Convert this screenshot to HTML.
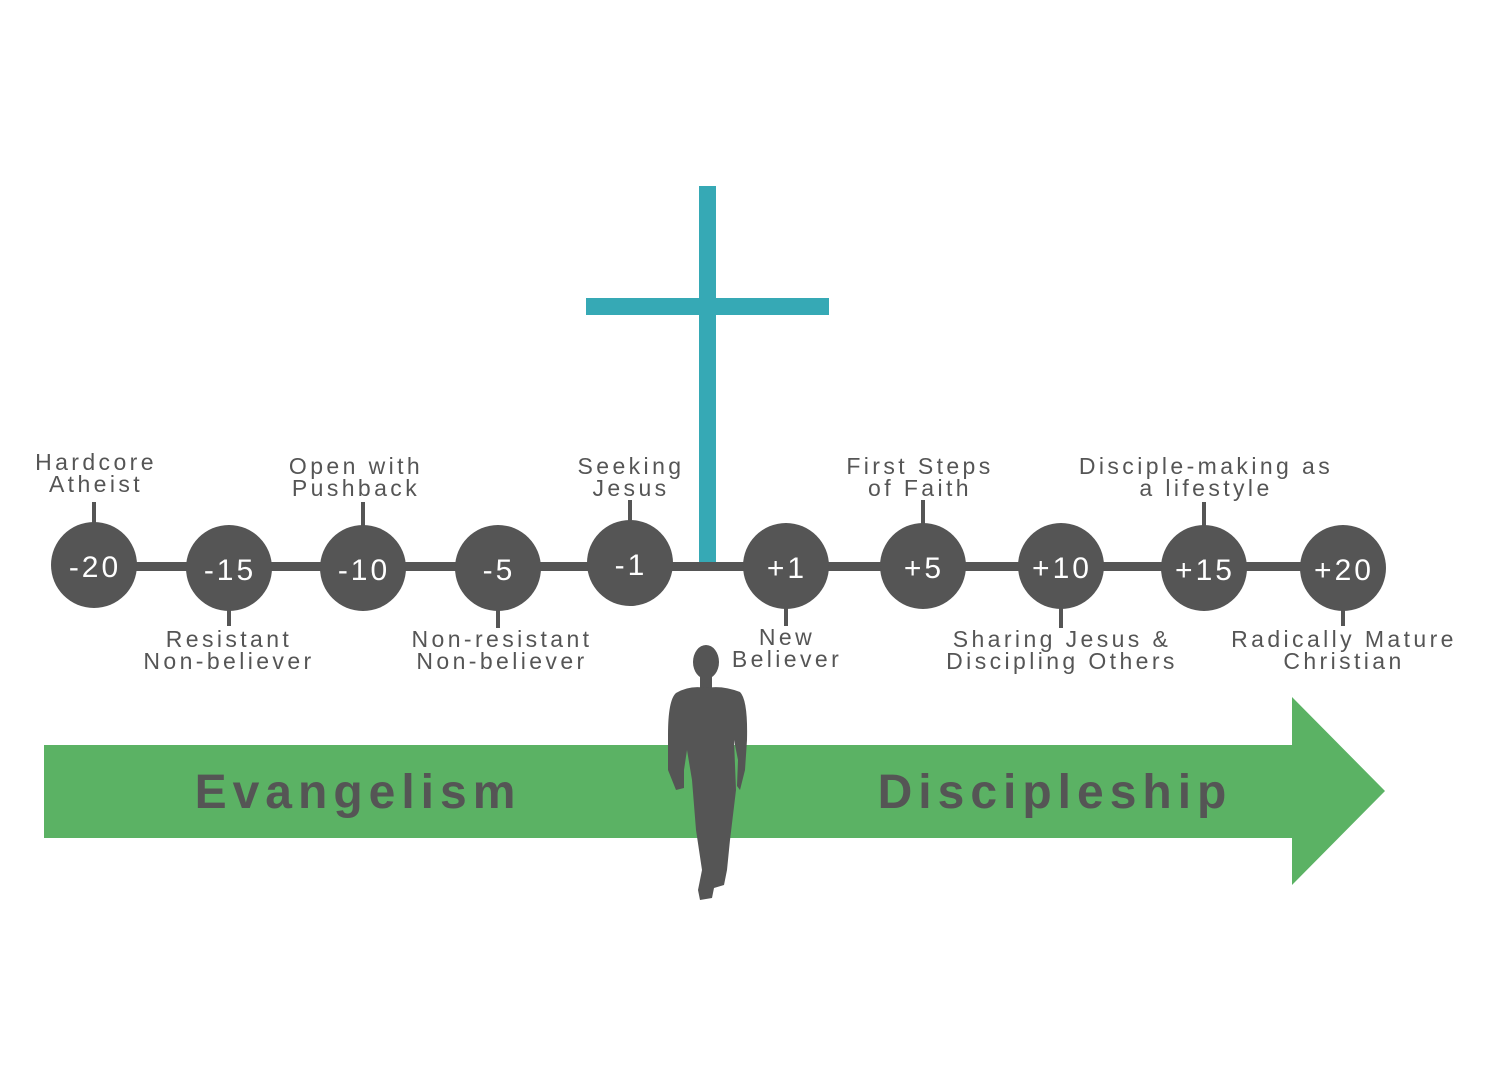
<!DOCTYPE html>
<html><head><meta charset="utf-8"><style>
html,body{margin:0;padding:0;background:#fff;}
svg{display:block;}
.l{font-family:"Liberation Sans",sans-serif;font-size:23px;fill:#555;letter-spacing:3.4px;text-anchor:middle;}
.n{font-family:"Liberation Sans",sans-serif;font-size:30px;fill:#fff;letter-spacing:3px;text-anchor:middle}
.b{font-family:"Liberation Sans",sans-serif;font-size:48px;font-weight:bold;fill:#555;letter-spacing:6px;text-anchor:middle}
</style></head><body>
<svg width="1500" height="1071" viewBox="0 0 1500 1071" xmlns="http://www.w3.org/2000/svg">
<rect width="1500" height="1071" fill="#fff"/>
<polygon points="44,745 1292,745 1292,697 1385,791 1292,885 1292,838 44,838" fill="#5bb264"/>
<text class="b" x="358" y="808">Evangelism</text>
<text class="b" x="1055" y="808">Discipleship</text>
<rect x="699" y="186" width="17" height="378" fill="#36a9b5"/>
<rect x="586" y="298" width="243" height="17" fill="#36a9b5"/>
<rect x="94" y="562" width="1250" height="9" fill="#555"/>
<g fill="#555">
<rect x="92" y="502" width="4" height="22"/>
<rect x="227" y="608" width="4" height="18"/>
<rect x="361" y="502" width="4" height="24"/>
<rect x="496" y="608" width="4" height="20"/>
<rect x="628" y="500" width="4" height="22"/>
<rect x="784" y="606" width="4" height="20"/>
<rect x="921" y="500" width="4" height="24"/>
<rect x="1059" y="606" width="4" height="22"/>
<rect x="1202" y="502" width="4" height="24"/>
<rect x="1341" y="608" width="4" height="18"/>
<circle cx="94" cy="565" r="43"/>
<circle cx="229" cy="568" r="43"/>
<circle cx="363" cy="568" r="43"/>
<circle cx="498" cy="568" r="43"/>
<circle cx="630" cy="563" r="43"/>
<circle cx="786" cy="566" r="43"/>
<circle cx="923" cy="566" r="43"/>
<circle cx="1061" cy="566" r="43"/>
<circle cx="1204" cy="568" r="43"/>
<circle cx="1343" cy="568" r="43"/>
</g>
<text class="n" x="95" y="577">-20</text>
<text class="n" x="230" y="580">-15</text>
<text class="n" x="364" y="580">-10</text>
<text class="n" x="499" y="580">-5</text>
<text class="n" x="631" y="575">-1</text>
<text class="n" x="787" y="578">+1</text>
<text class="n" x="924" y="578">+5</text>
<text class="n" x="1062" y="578">+10</text>
<text class="n" x="1205" y="580">+15</text>
<text class="n" x="1344" y="580">+20</text>
<text class="l" x="96" y="470">Hardcore</text><text class="l" x="96" y="492">Atheist</text>
<text class="l" x="229" y="647">Resistant</text><text class="l" x="229" y="669">Non-believer</text>
<text class="l" x="356" y="474">Open with</text><text class="l" x="356" y="496">Pushback</text>
<text class="l" x="502" y="647">Non-resistant</text><text class="l" x="502" y="669">Non-believer</text>
<text class="l" x="631" y="474">Seeking</text><text class="l" x="631" y="496">Jesus</text>
<text class="l" x="787" y="645">New</text><text class="l" x="787" y="667">Believer</text>
<text class="l" x="920" y="474">First Steps</text><text class="l" x="920" y="496">of Faith</text>
<text class="l" x="1062" y="647">Sharing Jesus &amp;</text><text class="l" x="1062" y="669">Discipling Others</text>
<text class="l" x="1206" y="474">Disciple-making as</text><text class="l" x="1206" y="496">a lifestyle</text>
<text class="l" x="1344" y="647">Radically Mature</text><text class="l" x="1344" y="669">Christian</text>
<g fill="#555">
<ellipse cx="706" cy="662" rx="13" ry="17"/>
<rect x="700" y="672" width="12" height="20"/>
<path d="M676,693 Q690,685 706,688 Q722,685 740,692 Q748,700 747,740 L745,770 L740,790 L737,786 L738,760 L734,740 L736,790 L730,840 L727,870 L724,885 L714,888 L712,898 L700,900 L698,890 L702,870 L696,830 L692,780 L687,750 L684,770 L684,788 L676,790 L668,770 L668,735 Q668,700 676,693 Z"/>
</g>
</svg>
</body></html>
